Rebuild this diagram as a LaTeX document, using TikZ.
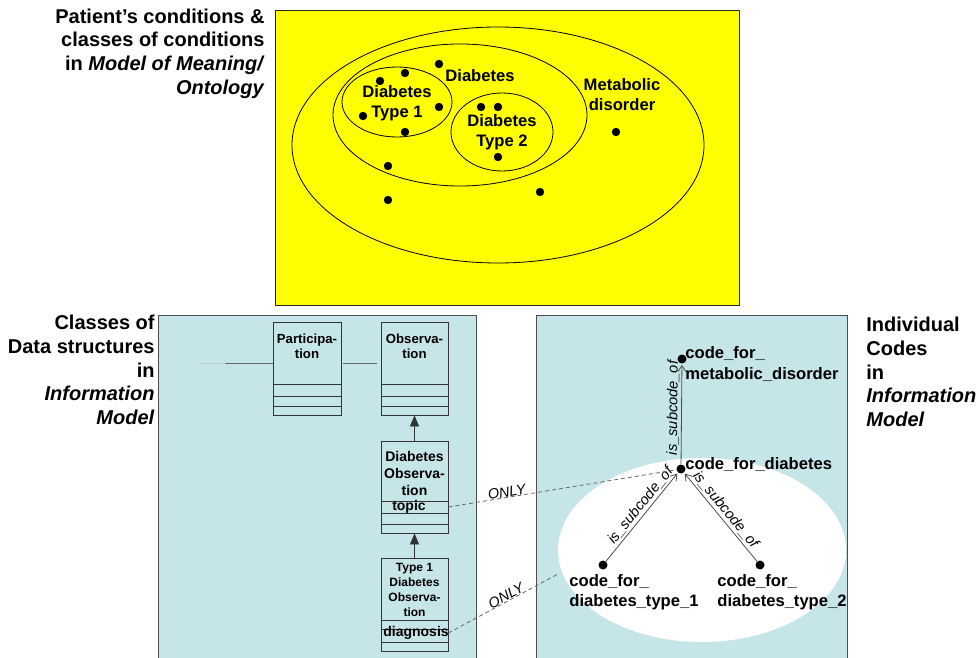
\documentclass[tikz,border=0pt]{standalone}
\usepackage{fontspec}
\setmainfont{Liberation Sans}
\usetikzlibrary{arrows.meta}
\usetikzlibrary{positioning}
\definecolor{venyellow}{RGB}{255,255,0}
\definecolor{panelblue}{RGB}{198,229,233}
\begin{document}
\begin{tikzpicture}[x=0.5pt,y=-0.5pt,
    heading/.style={font=\fontsize{10}{11.8}\selectfont\bfseries, inner sep=0pt},
    setlabel/.style={font=\fontsize{8.3}{10}\selectfont\bfseries, align=center, inner sep=0pt},
    member/.style={circle, fill=black, inner sep=0pt, minimum size=4.2pt},
    classbox/.style={draw=black!80, line width=0.4pt, minimum width=33.5pt, minimum height=46.5pt, inner sep=0pt},
    classname/.style={font=\fontsize{6.6}{7.5}\selectfont\bfseries, align=center, inner sep=0pt},
    attr/.style={font=\fontsize{7}{8}\selectfont\bfseries, inner sep=0pt},
    codedot/.style={circle, fill=black, inner sep=0pt, minimum size=4.5pt},
    codename/.style={font=\fontsize{8.3}{10.8}\selectfont\bfseries, align=left, inner sep=0pt},
    subcode/.style={draw=black!70, line width=0.4pt, -{Straight Barb[length=3pt,width=4pt]}, shorten >=0.5pt},
    relname/.style={font=\fontsize{7.3}{8}\selectfont\itshape, sloped, above, inner sep=1pt},
    only/.style={draw=black!60, dash pattern=on 2pt off 1.5pt, line width=0.4pt},
    onlytag/.style={font=\fontsize{7.2}{8}\selectfont\itshape, sloped, above, inner sep=0pt},
    isa/.style={draw=black!80, -{Triangle[length=5.5pt,width=4.5pt]}},
  ]
  \useasboundingbox (0,0) rectangle (976,658);

  % model of meaning
  \fill[venyellow, draw=black!85] (275,10) rectangle (739,305);
  \draw (498,145) ellipse [x radius=206, y radius=118];
  \draw (460,115) ellipse [x radius=127, y radius=71];
  \draw (397,102) ellipse [x radius=55, y radius=35];
  \draw (502,132) ellipse [x radius=51, y radius=39];
  \foreach \p [count=\i] in {(380,81),(405,73),(439,64),(439,107),(363,116),(405,132),
      (481,107),(498,107),(498,157),(616,132),(388,166),(388,200),(540,192)}
    \node[member] (m\i) at \p {};
  \node[setlabel] (diabetes) at (480,76) {Diabetes};
  \node[setlabel] (type1) at (397,103) {Diabetes\\Type 1};
  \node[setlabel] (type2) at (502,132.5) {Diabetes\\Type 2};
  \node[setlabel] (metabolic) at (622,94.5) {Metabolic\\disorder};

  % headings
  \node[heading, align=right, anchor=east] (ontohead) at (265,53.5)
    {Patient’s conditions \&\\classes of conditions\\in \textit{Model of Meaning/}\\\textit{Ontology}};
  \node[heading, align=right, anchor=east] (classhead) at (155,370)
    {Classes of\\Data structures\\in\\\textit{Information}\\\textit{Model}};
  \node[heading, align=left, anchor=west] (codehead) at (866,372)
    {Individual\\Codes\\in\\\textit{Information}\\\textit{Model}};

  % panels
  \fill[panelblue, draw=black!70] (158,315) rectangle (476,664);
  \fill[panelblue, draw=black!70] (536,315) rectangle (847,664);
  \fill[white] (702,550) ellipse [x radius=144, y radius=92];

  % information model classes
  \node[classbox, minimum width=34pt] (part) at (307,368.5) {};
  \node[classbox] (obs) at (414.5,368.5) {};
  \node[classbox, minimum height=46pt] (diabobs) at (414.5,487) {};
  \node[classbox] (t1obs) at (414.5,604.5) {};
  \foreach \b in {part,obs}
    \foreach \h in {4.5pt,9.5pt,15.5pt}
      \draw[black!80] ([yshift=\h]\b.south west) -- ([yshift=\h]\b.south east);
  \foreach \h in {4.5pt,10pt,16pt}
    \draw[black!80] ([yshift=\h]diabobs.south west) -- ([yshift=\h]diabobs.south east);
  \foreach \h in {4.5pt,11pt,15.5pt}
    \draw[black!80] ([yshift=\h]t1obs.south west) -- ([yshift=\h]t1obs.south east);

  \node[classname] (partname) at (307,346.5) {Participa-\\tion};
  \node[classname] (obsname) at (414.5,346.5) {Observa-\\tion};
  \node[classname, font=\fontsize{7}{8.5}\selectfont\bfseries] (diabname) at (414.5,473) {Diabetes\\Observa-\\tion};
  \node[classname, font=\fontsize{6}{7.5}\selectfont\bfseries] (t1name) at (414.5,589.5) {Type 1\\Diabetes\\Observa-\\tion};
  \node[attr] (topic) at (409,507) {topic};
  \node[attr] (diagnosis) at (416,633) {diagnosis};

  \draw[isa] (diabobs) -- (obs);
  \draw[isa] (t1obs) -- (diabobs);

  \coordinate (stub) at (200,363);
  \coordinate (stubend) at (225,363);
  \draw[black!35, densely dotted] (stub) -- (stubend);
  \draw[black!60] (stubend) -- ([yshift=2.75pt]part.west);
  \draw[black!60, shorten <=1pt, shorten >=2pt] ([yshift=2.75pt]part.east) -- ([yshift=2.75pt]obs.west);

  % individual codes
  \node[codedot] (meta) at (682,359) {};
  \node[codedot] (diab) at (681,469) {};
  \node[codedot] (dt1) at (603,565) {};
  \node[codedot] (dt2) at (760,565) {};
  \node[codename, anchor=west] (metaname) at (685,364) {code\_for\_\\metabolic\_disorder};
  \node[codename, anchor=west] (diabcode) at (685,464) {code\_for\_diabetes};
  \node[codename, anchor=west, font=\fontsize{8.3}{10}\selectfont\bfseries] (dt1name) at (569,592) {code\_for\_\\diabetes\_type\_1};
  \node[codename, anchor=west, font=\fontsize{8.3}{10}\selectfont\bfseries] (dt2name) at (717,592) {code\_for\_\\diabetes\_type\_2};

  \draw[subcode] (diab) -- node[relname, pos=0.56] (rel1) {is\_subcode\_of} (meta);
  \draw[subcode] (dt1) -- node[relname, pos=0.57] (rel2) {is\_subcode\_of} (diab);
  \draw[subcode] (dt2) -- node[relname, pos=0.52] (rel3) {is\_subcode\_of} (diab);

  % ONLY restrictions
  \coordinate (whiteedge) at (558,574);
  \draw[only] ([yshift=-10pt]diabobs.east) -- node[onlytag, pos=0.26] (only1) {ONLY} (diab);
  \draw[only] ([yshift=-14.25pt]t1obs.east) -- node[onlytag, pos=0.55] (only2) {ONLY} (whiteedge);
\end{tikzpicture}
\end{document}
